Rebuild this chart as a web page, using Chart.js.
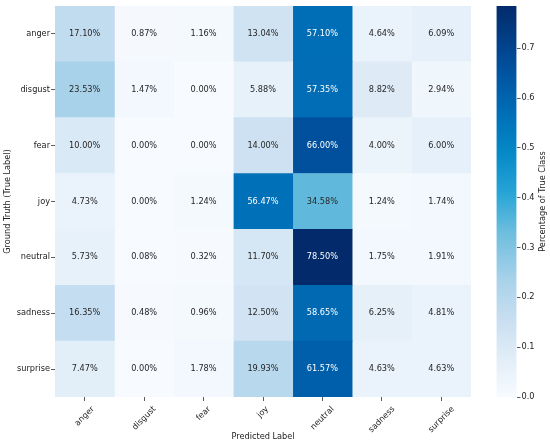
<!DOCTYPE html>
<html>
<head>
<meta charset="utf-8">
<script src="https://cdn.jsdelivr.net/npm/chart.js@4.4.1/dist/chart.umd.min.js"></script>
<style>
  html, body { margin: 0; padding: 0; background: #fff; }
  #wrap { position: relative; width: 550px; height: 446px; }
  #wrap canvas { position: absolute; top: 0; }
  #cm { left: 0; }
  #cb { left: 470px; }
</style>
</head>
<body>
<div id="wrap">
  <canvas id="cm" width="550" height="446"></canvas>
  <canvas id="cb" width="80" height="446"></canvas>
</div>
<script>
const trueLabels = ['anger', 'disgust', 'fear', 'joy', 'neutral', 'sadness', 'surprise'];
const predLabels = ['anger', 'disgust', 'fear', 'joy', 'neutral', 'sadness', 'surprise'];

// percentage of each true class that got each predicted label
const angerRow    = [17.10, 0.87, 1.16, 13.04, 57.10, 4.64, 6.09];
const disgustRow  = [23.53, 1.47, 0.00, 5.88, 57.35, 8.82, 2.94];
const fearRow     = [10.00, 0.00, 0.00, 14.00, 66.00, 4.00, 6.00];
const joyRow      = [4.73, 0.00, 1.24, 56.47, 34.58, 1.24, 1.74];
const neutralRow  = [5.73, 0.08, 0.32, 11.70, 78.50, 1.75, 1.91];
const sadnessRow  = [16.35, 0.48, 0.96, 12.50, 58.65, 6.25, 4.81];
const surpriseRow = [7.47, 0.00, 1.78, 19.93, 61.57, 4.63, 4.63];

const cbTicks = [0, 0.1, 0.2, 0.3, 0.4, 0.5, 0.6, 0.7];
const cbTitle = 'Percentage of True Class';

const rows = [angerRow, disgustRow, fearRow, joyRow, neutralRow, sadnessRow, surpriseRow];
const vmax = Math.max(...rows.flat()) / 100;

// Blues-like colour ramp, tuned to the picture
const stops = [
  [0.00, [247, 251, 255]],
  [0.10, [225, 237, 248]],
  [0.20, [200, 222, 240]],
  [0.30, [168, 210, 234]],
  [0.42, [110, 190, 222]],
  [0.52, [40, 165, 214]],
  [0.62, [6, 138, 200]],
  [0.72, [0, 112, 184]],
  [0.85, [1, 78, 155]],
  [1.00, [3, 43, 107]]
];

function cmap(t) {
  t = Math.max(0, Math.min(1, t));
  for (let k = 1; k < stops.length; k++) {
    if (t <= stops[k][0]) {
      const [t0, a] = stops[k - 1];
      const [t1, b] = stops[k];
      const f = (t - t0) / (t1 - t0);
      return a.map((v, n) => Math.round(v + (b[n] - v) * f));
    }
  }
  return stops[stops.length - 1][1];
}
const rgbStr = c => `rgb(${c[0]},${c[1]},${c[2]})`;

// same rule seaborn uses for annotation colour
function textColor(c) {
  const lin = c.map(v => {
    v /= 255;
    return v <= 0.03928 ? v / 12.92 : Math.pow((v + 0.055) / 1.055, 2.4);
  });
  const lum = 0.2126 * lin[0] + 0.7152 * lin[1] + 0.0722 * lin[2];
  return lum > 0.408 ? '#262626' : '#ffffff';
}

const FS = 8.2;
Chart.defaults.font.family = "'DejaVu Sans', sans-serif";
Chart.defaults.font.size = FS;
Chart.defaults.color = '#222';

const FONT = FS + "px 'DejaVu Sans', sans-serif";

// one dataset per predicted column, stacked into unit cells
const datasets = predLabels.map((p, j) => ({
  label: p,
  data: trueLabels.map((t, i) => ({ y: t, x: 1, v: rows[i][j] })),
  backgroundColor: trueLabels.map((t, i) => rgbStr(cmap(rows[i][j] / 100 / vmax))),
  borderWidth: 0,
  barPercentage: 1,
  categoryPercentage: 1
}));

const cellText = {
  id: 'cellText',
  afterDatasetsDraw(chart) {
    const c = chart.ctx;
    c.save();
    c.font = FONT;
    c.textAlign = 'center';
    c.textBaseline = 'middle';
    chart.data.datasets.forEach((ds, j) => {
      chart.getDatasetMeta(j).data.forEach((bar, i) => {
        const { x, y, base } = bar.getProps(['x', 'y', 'base'], true);
        const v = ds.data[i].v;
        c.fillStyle = textColor(cmap(v / 100 / vmax));
        c.fillText(v.toFixed(2) + '%', (x + base) / 2, y);
      });
    });
    c.restore();
  }
};

// rotated x labels, centred under their tick like matplotlib does
const xLabels = {
  id: 'xLabels',
  afterDraw(chart) {
    const s = chart.scales.x;
    const c = chart.ctx;
    c.save();
    c.font = FONT;
    c.fillStyle = '#222';
    c.textAlign = 'center';
    c.textBaseline = 'middle';
    s.ticks.forEach((t, j) => {
      const label = predLabels[j];
      const px = s.getPixelForValue(t.value);
      const w = c.measureText(label).width;
      const half = (w + 8) * Math.SQRT1_2 / 2;
      c.save();
      c.translate(px, s.top + 8 + half);
      c.rotate(-Math.PI / 4);
      c.fillText(label, 0, 0);
      c.restore();
    });
    c.restore();
  }
};

new Chart(document.getElementById('cm'), {
  type: 'bar',
  data: { labels: trueLabels, datasets: datasets },
  options: {
    indexAxis: 'y',
    responsive: false,
    animation: false,
    layout: { padding: { top: 4, right: 79, left: 0, bottom: 0 } },
    plugins: { legend: { display: false }, tooltip: { enabled: false } },
    scales: {
      x: {
        type: 'linear',
        stacked: true,
        min: 0,
        max: predLabels.length,
        afterBuildTicks: s => { s.ticks = predLabels.map((_, j) => ({ value: j + 0.5 })); },
        afterFit: s => { s.height = 49; },
        ticks: { display: false },
        grid: { drawOnChartArea: false, tickLength: 4, color: '#333', lineWidth: 0.8 },
        border: { display: false },
        title: { display: true, text: 'Predicted Label', padding: { top: 0, bottom: 4 } }
      },
      y: {
        type: 'category',
        stacked: true,
        afterFit: s => { s.width = 55; },
        ticks: { padding: 1 },
        grid: { offset: false, drawOnChartArea: false, tickLength: 4, color: '#333', lineWidth: 0.8 },
        border: { display: false },
        title: { display: true, text: 'Ground Truth (True Label)', padding: { top: 3, bottom: 0 } }
      }
    }
  },
  plugins: [cellText, xLabels]
});

function barGradient(chart) {
  const y = chart.scales.y;
  if (!chart.chartArea || !y) return rgbStr(cmap(0.5));
  const g = chart.ctx.createLinearGradient(0, y.getPixelForValue(0), 0, y.getPixelForValue(vmax));
  stops.forEach(([t, c]) => g.addColorStop(t, rgbStr(c)));
  return g;
}

// colour bar title reads bottom-to-top, as in matplotlib
const cbLabel = {
  id: 'cbLabel',
  afterDraw(chart) {
    const s = chart.scales.y;
    const c = chart.ctx;
    c.save();
    c.font = FONT;
    c.fillStyle = '#222';
    c.textAlign = 'center';
    c.textBaseline = 'middle';
    c.translate(s.right - 7, (s.top + s.bottom) / 2);
    c.rotate(-Math.PI / 2);
    c.fillText(cbTitle, 0, 0);
    c.restore();
  }
};

new Chart(document.getElementById('cb'), {
  type: 'bar',
  data: {
    labels: [''],
    datasets: [{
      data: [vmax],
      backgroundColor: ctx => barGradient(ctx.chart),
      borderWidth: 0,
      barPercentage: 1,
      categoryPercentage: 1
    }]
  },
  options: {
    responsive: false,
    animation: false,
    layout: { padding: { left: 26.5, top: 4, bottom: 49, right: 0 } },
    plugins: { legend: { display: false }, tooltip: { enabled: false } },
    scales: {
      x: { display: false },
      y: {
        position: 'right',
        min: 0,
        max: vmax,
        afterBuildTicks: s => { s.ticks = cbTicks.map(v => ({ value: v })); },
        afterFit: s => { s.width = 33.5; },
        ticks: { padding: 1, callback: v => v.toFixed(1) },
        grid: { drawOnChartArea: false, tickLength: 4, color: '#333', lineWidth: 0.8 },
        border: { display: false },
        title: { display: false }
      }
    }
  },
  plugins: [cbLabel]
});
</script>
</body>
</html>
